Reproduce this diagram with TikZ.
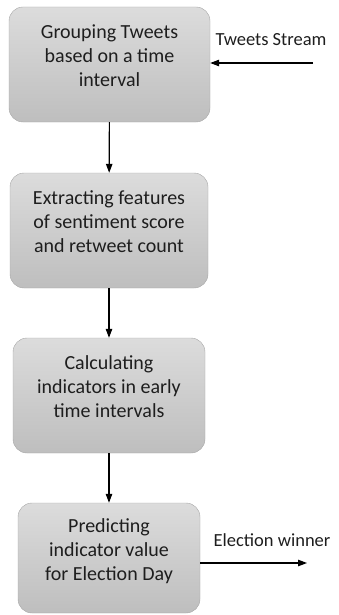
\documentclass[tikz,border=0pt]{standalone}
\usepackage{fontspec}
\setmainfont{Carlito}
\usetikzlibrary{arrows.meta}
\definecolor{boxtop}{HTML}{DCDCDC}
\definecolor{boxbot}{HTML}{BEBEBE}
\definecolor{boxline}{HTML}{A6A6A6}
\definecolor{txt}{HTML}{1E1E1E}

\tikzset{
  stage/.style={draw=boxline, top color=boxtop, bottom color=boxbot,
    rounded corners=14pt, align=center, text=txt, inner sep=0pt,
    text depth=17pt, font=\fontsize{20}{24}\selectfont},
  lbl/.style={text=txt, font=\fontsize{18.5}{22}\selectfont},
  flow/.style={-{Triangle[length=9pt,width=6.5pt]}, line width=1.1pt}
}

\begin{document}
\begin{tikzpicture}[x=1pt,y=-1pt]
  \useasboundingbox (0,0) rectangle (339,615);

  % stages
  \node[stage, minimum width=201pt, minimum height=115pt] (b1) at (109.5,64.5)
    {Grouping Tweets\\based on a time\\interval};
  \node[stage, minimum width=198pt, minimum height=115pt] (b2) at (109,230.5)
    {Extracting features\\of sentiment score\\and retweet count};
  \node[stage, minimum width=192pt, minimum height=115pt] (b3) at (109,395.5)
    {Calculating\\indicators in early\\time intervals};
  \node[stage, minimum width=182pt, minimum height=110pt] (b4) at (109,558)
    {Predicting\\indicator value\\for Election Day};

  % input / output
  \node[lbl] (tsl) at (271,40) {Tweets Stream};
  \coordinate (ts) at (313,63);
  \node[lbl] (ewl) at (272,540) {Election winner};
  \coordinate (ew) at (307,563);

  \draw[flow] (ts) -- (ts -| b1.east);
  \draw[flow] (b1) -- (b2);
  \draw[flow] (b2) -- (b3);
  \draw[flow] (b3) -- (b4);
  \draw[flow] (ew -| b4.east) -- (ew);
\end{tikzpicture}
\end{document}
